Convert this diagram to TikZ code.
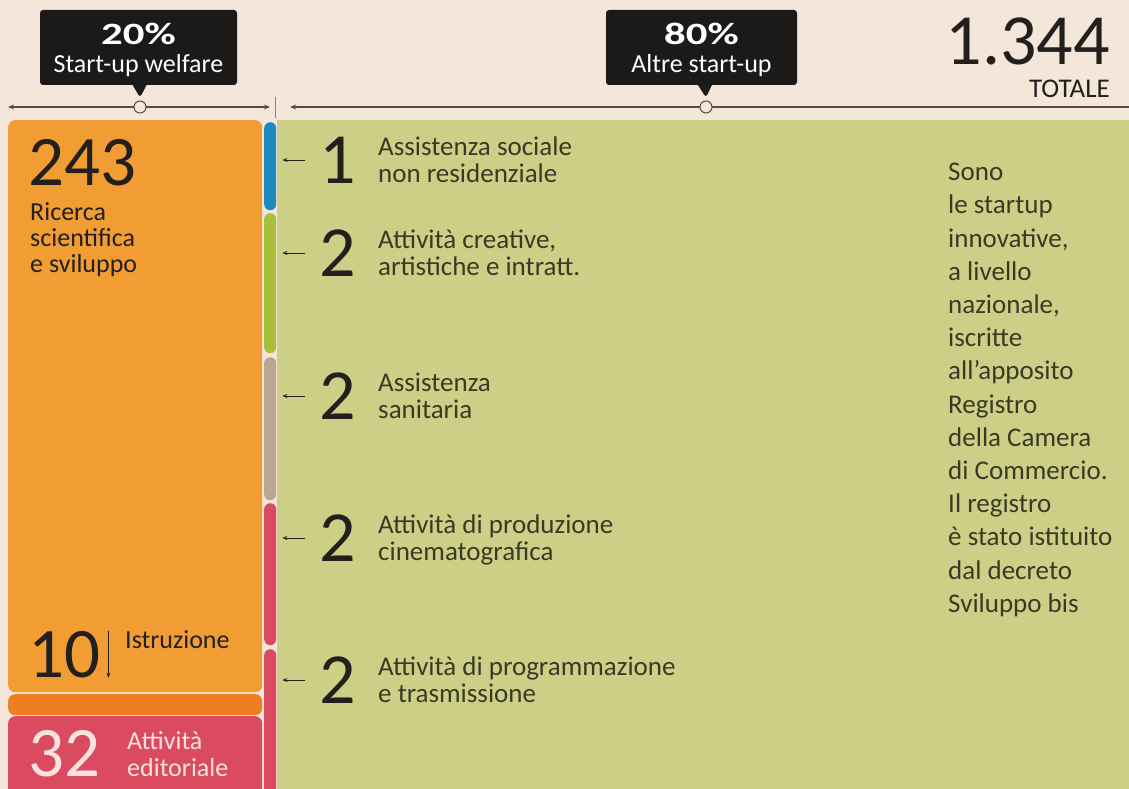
\documentclass[tikz,border=0pt]{standalone}
\usepackage{fontspec}
\setmainfont{Carlito}
\newfontfamily\pctfont[FakeStretch=1.38]{Carlito}
\usetikzlibrary{arrows.meta}
\usetikzlibrary{positioning}
\usetikzlibrary{shapes.callouts}

\definecolor{bgbeige}{HTML}{F5E6DA}
\definecolor{panelgreen}{HTML}{CDCF87}
\definecolor{barorange}{HTML}{F29D33}
\definecolor{darkorange}{HTML}{EE7E22}
\definecolor{barred}{HTML}{DB4B5F}
\definecolor{segblue}{HTML}{1B8BBE}
\definecolor{seggreen}{HTML}{A9BF3C}
\definecolor{segtaupe}{HTML}{B9A792}
\definecolor{tipblack}{HTML}{1C1A19}
\definecolor{ink}{HTML}{231F1C}
\definecolor{olive}{HTML}{3A3A24}
\definecolor{rulecol}{HTML}{5A4A42}
\definecolor{numwhite}{HTML}{FAE3DF}

\begin{document}
\begin{tikzpicture}[x=1pt,y=-1pt,
    block/.style={anchor=north west,inner sep=0pt,rounded corners=7pt},
    seg/.style={anchor=north west,inner sep=0pt,minimum width=12pt,rounded corners=6pt},
    tipbox/.style={rectangle callout,fill=tipblack,text=white,rounded corners=3pt,
      callout pointer width=14pt,minimum height=75pt,align=center,inner sep=0pt,
      font=\fontsize{26}{28}\selectfont},
    rulerline/.style={draw=rulecol,line width=1.1pt},
    knob/.style={circle,draw=rulecol,fill=bgbeige,line width=1pt,minimum size=12pt,inner sep=0pt},
    bignum/.style={inner sep=0pt,text=ink,font=\fontsize{71}{71}\selectfont},
    rownum/.style={inner sep=0pt,text=ink,font=\fontsize{72}{72}\selectfont},
    rowtext/.style={inner sep=0pt,text=olive,font=\fontsize{27}{27}\selectfont,text height=19pt,text depth=8pt},
    leader/.style={draw=ink,line width=0.8pt,{Stealth[length=5pt,width=4pt]}-},
  ]
  \useasboundingbox (0,0) rectangle (1129,789);
  \fill[bgbeige] (0,0) rectangle (1129,789);

  % top ruler
  \coordinate (sL) at (8,107);
  \coordinate (sR) at (270,107);
  \coordinate (s2L) at (290,107);
  \coordinate (s2R) at (1140,107);
  \draw[rulerline,{Stealth[length=6pt,width=5pt]}-{Stealth[length=6pt,width=5pt]}] (sL) -- (sR);
  \draw[rulerline,{Stealth[length=6pt,width=5pt]}-] (s2L) -- (s2R);
  \draw[draw=rulecol!70,line width=1pt] (275,97) -- (275,118);
  \node[knob] (knob1) at (140,107) {};
  \node[knob] (knob2) at (706,107) {};
  \coordinate (tip1) at ([yshift=3pt]knob1.north);
  \coordinate (tip2) at ([yshift=3pt]knob2.north);

  \node[tipbox,minimum width=197pt,callout absolute pointer={(tip1)}] (box1) at (138.5,47.5)
    {\rule{0pt}{26pt}{\pctfont\fontsize{31}{28}\selectfont\bfseries 20\%}\\Start-up welfare};
  \node[tipbox,minimum width=191pt,callout absolute pointer={(tip2)}] (box2) at (701.5,47.5)
    {\rule{0pt}{26pt}{\pctfont\fontsize{31}{28}\selectfont\bfseries 80\%}\\Altre start-up};

  \node[bignum,anchor=base east,font=\fontsize{72}{72}\selectfont] (total) at (1110,65) {1.344};
  \node[inner sep=0pt,anchor=base east,text=ink,font=\fontsize{27}{27}\selectfont] (totlabel) at (1110,98) {TOTALE};

  % panels
  \fill[panelgreen] (277,120) rectangle (1129,789);
  \node[block,fill=barorange,minimum width=254pt,minimum height=572pt] (ricbox) at (8,120) {};
  \node[block,fill=darkorange,minimum width=254pt,minimum height=21pt] (istbox) at (8,694) {};
  \node[block,fill=barred,minimum width=254pt,minimum height=90pt] (edbox) at (8,716) {};

  \foreach \i/\t/\b/\col in {1/122/210/segblue,2/213/353/seggreen,3/357/500/segtaupe,4/503/645/barred,5/649/800/barred}
    \node[seg,fill=\col,minimum height=\b-\t] (seg\i) at (264,\t) {};

  % left block
  \node[bignum,anchor=base west] (n243) at (28,185) {243};
  \node[anchor=north west,inner sep=0pt,align=left,text=ink,font=\fontsize{26}{26}\selectfont] (ricerca) at (30,202)
    {Ricerca\\scientifica\\e sviluppo};
  \node[bignum,anchor=base west] (n10) at (28,677) {10};
  \draw[draw=ink,line width=0.8pt,-{Stealth[length=5pt,width=4pt]}] ([xshift=8pt]n10.north east) -- ([xshift=8pt]n10.south east);
  \node[inner sep=0pt,anchor=base west,text=ink,font=\fontsize{26}{26}\selectfont] (istr) at (125,648) {Istruzione};
  \node[bignum,anchor=base west,text=numwhite] (n32) at (28,776) {32};
  \node[anchor=north west,inner sep=0pt,align=left,text=numwhite,font=\fontsize{26}{27}\selectfont] (edit) at (127,731)
    {Attività\\editoriale};

  % rows
  \foreach \i/\c/\n/\la/\lb in {1/160/1/{Assistenza sociale}/{non residenziale},
      2/253/2/{Attività creative,}/{artistiche e intratt.},
      3/396/2/Assistenza/sanitaria,
      4/538/2/{Attività di produzione}/cinematografica,
      5/680/2/{Attività di programmazione}/{e trasmissione}}
  {
    \node[rownum] (num\i) at (338,\c) {\n};
    \node[rowtext,anchor=base west] (la\i) at (378,\c-5) {\la};
    \node[rowtext,below=0pt of la\i.south west,anchor=north west] (lb\i) {\lb};
    \draw[leader,shorten <=6pt,shorten >=15pt] (seg\i.east |- num\i.west) -- (num\i.west);
  }

  % right note
  \node[anchor=north west,inner sep=0pt,align=left,text=olive,font=\fontsize{27}{33.2}\selectfont] (note) at (948,163)
    {Sono\\le startup\\innovative,\\a livello\\nazionale,\\iscritte\\all’apposito\\Registro\\della Camera\\di Commercio.\\Il registro\\è stato istituito\\dal decreto\\Sviluppo bis};
\end{tikzpicture}
\end{document}
